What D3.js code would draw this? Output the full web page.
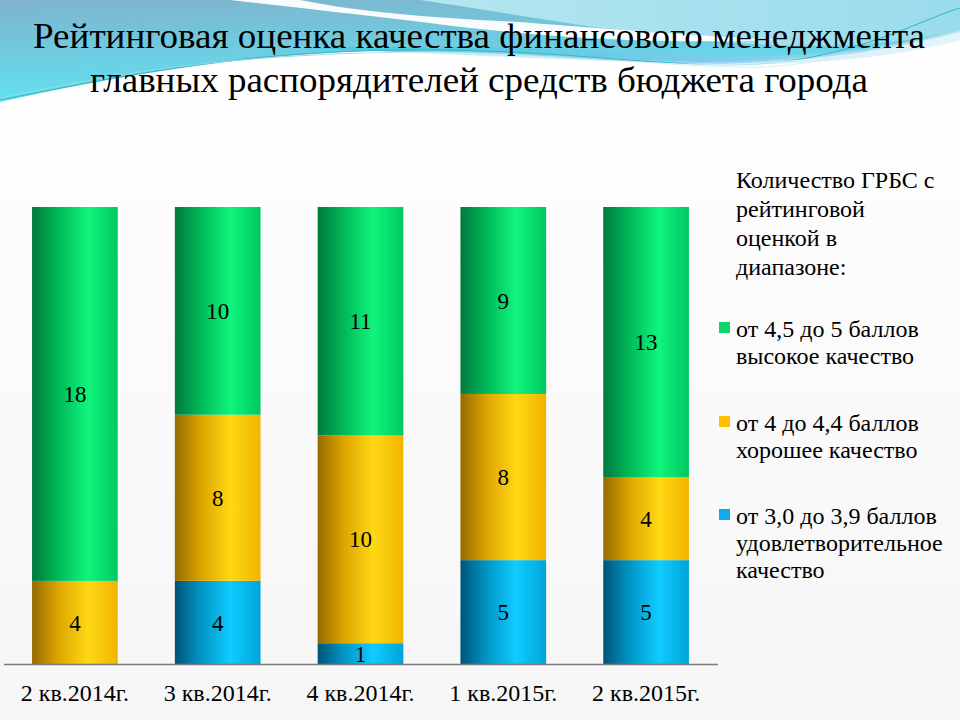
<!DOCTYPE html>
<html><head><meta charset="utf-8">
<script src="https://cdn.jsdelivr.net/npm/d3@7"></script>
<style>html,body{margin:0;padding:0;background:#fff;}svg{display:block;}</style>
</head><body>
<svg id="chart" width="960" height="720"></svg>
<script>
const categories = ["2 кв.2014г.", "3 кв.2014г.", "4 кв.2014г.", "1 кв.2015г.", "2 кв.2015г."];
const seriesNames = ["low", "mid", "high"];
const lowValues  = [0, 4, 1, 5, 5];   // от 3,0 до 3,9
const midValues  = [4, 8, 10, 8, 4];  // от 4 до 4,4
const highValues = [18, 10, 11, 9, 13]; // от 4,5 до 5
const yMax = 22;
const titleLines = ["Рейтинговая оценка качества финансового менеджмента", "главных распорядителей средств бюджета города"];
const legendHeading = ["Количество ГРБС с", "рейтинговой", "оценкой в", "диапазоне:"];
const legendItems = [
  {key: "high", lines: ["от 4,5 до 5 баллов", "высокое качество"]},
  {key: "mid", lines: ["от 4 до 4,4 баллов", "хорошее качество"]},
  {key: "low", lines: ["от 3,0 до 3,9 баллов", "удовлетворительное", "качество"]}
];
const FONT = "Liberation Serif";

const svg = d3.select("#chart");
const defs = svg.append("defs");

const bgG = defs.append("linearGradient").attr("id","bg").attr("x1",0).attr("y1",0).attr("x2",0).attr("y2",1);
bgG.append("stop").attr("offset",0).attr("stop-color","#ffffff");
bgG.append("stop").attr("offset",1).attr("stop-color","#f6f6f6");
svg.append("rect").attr("width",960).attr("height",720).attr("fill","url(#bg)");

const blueG = defs.append("linearGradient").attr("id","blueTop").attr("x1",0).attr("y1",0).attr("x2",0.3).attr("y2",1);
blueG.append("stop").attr("offset",0).attr("stop-color","#7fb4cc");
blueG.append("stop").attr("offset",0.6).attr("stop-color","#6cd0e4");
blueG.append("stop").attr("offset",1).attr("stop-color","#5ee6f2");
const rightG = defs.append("linearGradient").attr("id","blueRight").attr("x1",0).attr("y1",0).attr("x2",1).attr("y2",0);
rightG.append("stop").attr("offset",0).attr("stop-color","#b4e6f0");
rightG.append("stop").attr("offset",1).attr("stop-color","#9adcec");
const midG = defs.append("linearGradient").attr("id","blueMid").attr("x1",0).attr("y1",0).attr("x2",1).attr("y2",0);
midG.append("stop").attr("offset",0).attr("stop-color","#3cc8e0");
midG.append("stop").attr("offset",0.6).attr("stop-color","#7ec8ea");
midG.append("stop").attr("offset",1).attr("stop-color","#a8dcf0");

svg.append("path").attr("fill","url(#blueTop)")
  .attr("d","M0,0 L960,0 L960,30 C880,52 780,62 700,62 C600,60 520,50 420,50 C300,50 160,65 0,102 Z");
svg.append("path").attr("fill","url(#blueRight)")
  .attr("d","M420,0 L960,0 L960,30 C880,50 780,48 700,40 C600,30 520,15 420,0 Z");
svg.append("path").attr("fill","#ffffff").attr("opacity",0.95)
  .attr("d","M230,0 L300,0 C360,12 430,18 520,22 C620,30 700,36 780,40 C660,44 560,38 470,28 C390,18 300,8 230,0 Z");
svg.append("path").attr("fill","url(#blueMid)").attr("opacity",0.8)
  .attr("d","M300,48 C450,44 600,50 720,56 C820,58 900,46 960,30 L960,40 C900,56 820,66 720,64 C600,62 450,54 300,48 Z");
svg.append("path").attr("fill","none").attr("stroke","#2fb8c8").attr("stroke-width",1)
  .attr("d","M0,100 C150,70 250,52 400,50 C560,48 680,70 760,64 C860,56 920,20 960,8");
svg.append("path").attr("fill","none").attr("stroke","#9ad8e0").attr("stroke-width",1)
  .attr("d","M0,98 C150,66 250,54 420,52 C580,52 700,72 780,66 C880,56 930,26 960,14");
svg.append("path").attr("fill","#ffffff").attr("opacity",0.6)
  .attr("d","M0,104 C160,67 300,52 420,52 C520,52 600,62 700,64 C780,64 880,54 960,32 L960,40 C880,62 780,70 700,70 C600,70 520,60 420,60 C300,60 160,75 0,112 Z");

// title
const title = svg.append("g").attr("fill","#000");
title.append("text").attr("x",33).attr("y",48).attr("font-family",FONT).attr("font-size",36)
  .attr("textLength",892).attr("lengthAdjust","spacingAndGlyphs").text(titleLines[0]);
title.append("text").attr("x",90).attr("y",92).attr("font-family",FONT).attr("font-size",36)
  .attr("textLength",778).attr("lengthAdjust","spacingAndGlyphs").text(titleLines[1]);

const palette = {
  high: ["#007a3c","#00b858","#10f57c","#00c862"],
  mid:  ["#946a00","#dca400","#ffd814","#f0b400"],
  low:  ["#005478","#0094c4","#10ccff","#00a4d8"]
};
Object.entries(palette).forEach(([k,c])=>{
  const g = defs.append("linearGradient").attr("id","grad-"+k).attr("x1",0).attr("y1",0).attr("x2",1).attr("y2",0);
  g.append("stop").attr("offset",0).attr("stop-color",c[0]);
  g.append("stop").attr("offset",0.3).attr("stop-color",c[1]);
  g.append("stop").attr("offset",0.65).attr("stop-color",c[2]);
  g.append("stop").attr("offset",1).attr("stop-color",c[3]);
});

const data = categories.map((c,i)=>({cat:c, low:lowValues[i], mid:midValues[i], high:highValues[i]}));
const stack = d3.stack().keys(seriesNames)(data);

const x = d3.scaleBand().domain(categories).range([3.5,717.5]).paddingInner(0.4).paddingOuter(0.2);
const y = d3.scaleLinear().domain([0,yMax]).range([664,207]);

const barsG = svg.append("g");
stack.forEach(layer=>{
  const key = layer.key;
  barsG.selectAll(null).data(layer.filter(d=>d[1]-d[0]>0)).enter().append("rect")
    .attr("x",d=>x(d.data.cat)).attr("width",x.bandwidth())
    .attr("y",d=>y(d[1])).attr("height",d=>y(d[0])-y(d[1]))
    .attr("fill","url(#grad-"+key+")");
});
stack.forEach(layer=>{
  barsG.selectAll(null).data(layer.filter(d=>d[1]-d[0]>0)).enter().append("text")
    .attr("x",d=>x(d.data.cat)+x.bandwidth()/2)
    .attr("y",d=>(y(d[0])+y(d[1]))/2)
    .attr("dy","0.35em").attr("text-anchor","middle")
    .attr("font-family",FONT).attr("font-size",23).attr("fill","#000")
    .text(d=>d[1]-d[0]);
});

const xAxis = d3.axisBottom(x).tickSize(0).tickPadding(20);
const ax = svg.append("g").attr("transform","translate(0,664)").call(xAxis);
ax.attr("font-family",FONT).attr("font-size",24);
ax.select(".domain").attr("stroke","#7a7a7a").attr("stroke-width",1.5);
ax.selectAll("text").attr("font-family",FONT).attr("font-size",24).attr("fill","#000");

const lg = svg.append("g").attr("fill","#000");
legendHeading.forEach((t,i)=>{
  lg.append("text").attr("x",736).attr("y",188+i*29).attr("font-family",FONT).attr("font-size",24).text(t);
});
const legendColors = {high:"#10d46a", mid:"#ffc000", low:"#10aaee"};
const itemBase = [337, 431, 524];
legendItems.forEach((it,j)=>{
  lg.append("rect").attr("x",719).attr("y",itemBase[j]-15).attr("width",11).attr("height",11).attr("fill",legendColors[it.key]);
  it.lines.forEach((t,i)=>{
    lg.append("text").attr("x",736).attr("y",itemBase[j]+i*27).attr("font-family",FONT).attr("font-size",24).text(t);
  });
});
</script>
</body></html>
